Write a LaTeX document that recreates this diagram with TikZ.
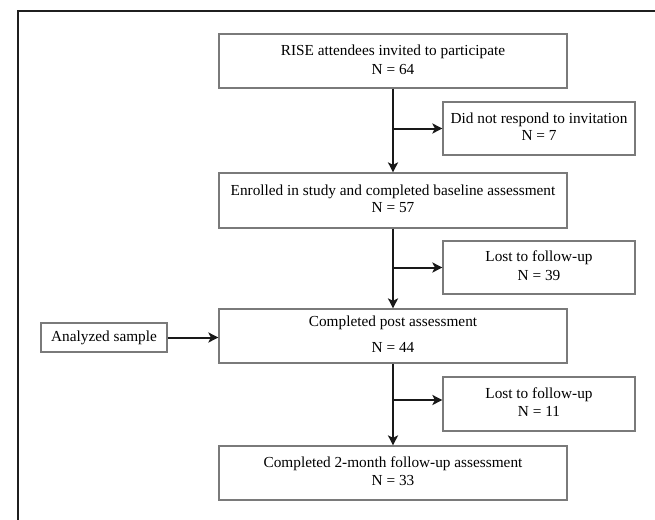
\documentclass[tikz,border=0pt]{standalone}
\usepackage{fontspec}
\setmainfont{Liberation Serif}
\usetikzlibrary{arrows.meta}
\newcommand{\twoline}[4]{\raisebox{#1}{\begin{tabular}{@{}c@{}}#3\\[#2]#4\end{tabular}}}
\begin{document}
\begin{tikzpicture}[x=1pt,y=-1pt,
  box/.style={draw=black!52,line width=1.2pt,fill=white,minimum width=348pt,minimum height=54pt,inner sep=0pt,anchor=center,
    font=\fontsize{15.3}{17.5}\selectfont},
  sidebox/.style={box,minimum width=192pt},
  arr/.style={line width=2pt,black!90,-{Stealth[length=10pt,width=10pt,inset=2.5pt]}}]
\useasboundingbox (0,0) rectangle (655,519);
\fill[white] (0,0) rectangle (655,519);
\draw[line width=1.8pt,black!88] (18,525) -- (18,11) -- (660,11);

\node[box] (b1) at (393,61) {\twoline{1pt}{1.5pt}{RISE attendees invited to participate}{N = 64}};
\node[sidebox,minimum height=53pt] (b2) at (539,128.5) {\twoline{5pt}{0pt}{Did not respond to invitation}{N = 7}};
\node[box,minimum height=55pt] (b3) at (393,200.5) {\twoline{7.5pt}{-1pt}{Enrolled in study and completed baseline assessment}{N = 57}};
\node[sidebox,minimum height=53pt] (b4) at (539,267.5) {\twoline{3.5pt}{1.5pt}{Lost to follow-up}{N = 39}};
\node[box] (b5) at (393,336) {\twoline{0pt}{8pt}{Completed post assessment}{N = 44}};
\node[sidebox] (b6) at (539,404) {\twoline{3pt}{0.5pt}{Lost to follow-up}{N = 11}};
\node[box] (b7) at (393,473) {\twoline{2pt}{0.5pt}{Completed 2-month follow-up assessment}{N = 33}};
\node[box,minimum width=126pt,minimum height=29pt] (an) at (104,337.5) {Analyzed sample};

\draw[arr] (b1.south) -- (b3.north);
\draw[arr] (b1.south |- b2.west) -- (b2.west);
\draw[arr] (b3.south) -- (b5.north);
\draw[arr] (b3.south |- b4.west) -- (b4.west);
\draw[arr] (b5.south) -- (b7.north);
\draw[arr] ([yshift=4pt]b6.west -| b5.south) -- ([yshift=4pt]b6.west);
\draw[arr] (an.east) -- (an.east -| b5.west);
\end{tikzpicture}
\end{document}
